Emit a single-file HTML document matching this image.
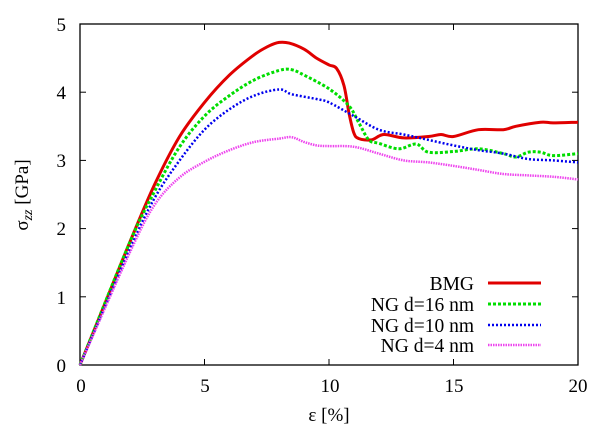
<!DOCTYPE html>
<html><head><style>body{margin:0;background:#fff}svg{display:block}text{font-family:"Liberation Serif",serif;fill:#000}</style></head>
<body>
<svg id="s" width="609" height="427" xmlns="http://www.w3.org/2000/svg">
<rect x="80" y="24" width="498" height="341" fill="none" stroke="#000" stroke-width="1.3"/>
<g id="ticks"></g>
<g font-size="19">
<text x="81" y="392" text-anchor="middle">0</text>
<text x="205" y="392" text-anchor="middle">5</text>
<text x="330" y="392" text-anchor="middle">10</text>
<text x="454" y="392" text-anchor="middle">15</text>
<text x="578" y="392" text-anchor="middle">20</text>
<text x="66" y="372" text-anchor="end">0</text>
<text x="66" y="304" text-anchor="end">1</text>
<text x="66" y="235" text-anchor="end">2</text>
<text x="66" y="167" text-anchor="end">3</text>
<text x="66" y="99" text-anchor="end">4</text>
<text x="66" y="31" text-anchor="end">5</text>
<text x="329" y="421" text-anchor="middle">ε [%]</text>
<text transform="translate(28,195) rotate(-90)" text-anchor="middle">σ<tspan font-style="italic" font-size="14" dy="4">zz</tspan><tspan dy="-4"> [GPa]</tspan></text>
</g>
<g font-size="19.5" text-anchor="end">
<text x="474" y="290">BMG</text>
<text x="474" y="311">NG d=16 nm</text>
<text x="474" y="332">NG d=10 nm</text>
<text x="474" y="352">NG d=4 nm</text>
</g>
<g id="lines"></g>
</svg>
<script>
var X=function(v){return 80+v*24.9},Y=function(v){return 365-v*68.2};
var t='';
for(var i=0;i<=4;i++){var x=X(i*5);t+='<line x1="'+x+'" y1="365" x2="'+x+'" y2="359" stroke="#000"/><line x1="'+x+'" y1="24" x2="'+x+'" y2="30" stroke="#000"/>';}
for(var j=0;j<=5;j++){var y=Y(j);t+='<line x1="80" y1="'+y+'" x2="86" y2="'+y+'" stroke="#000"/><line x1="578" y1="'+y+'" x2="572" y2="'+y+'" stroke="#000"/>';}
document.getElementById('ticks').innerHTML=t;
var S=[
["#e00000","none",3,[[0,0],[1,0.9],[2,1.8],[3,2.65],[4,3.35],[5,3.85],[6,4.25],[7,4.55],[7.6,4.68],[8,4.73],[8.4,4.72],[9,4.63],[9.5,4.5],[10,4.4],[10.3,4.35],[10.6,4.1],[10.8,3.7],[11,3.4],[11.2,3.32],[11.7,3.3],[12.2,3.38],[13,3.33],[14,3.35],[14.5,3.38],[15,3.35],[16,3.45],[17,3.45],[17.5,3.5],[18.5,3.56],[19,3.55],[20,3.56]],283],
["#00dd00","3,2",3,[[0,0],[2,1.8],[3,2.55],[4,3.2],[5,3.65],[6,3.95],[7,4.18],[8,4.32],[8.5,4.33],[9,4.25],[10,4.05],[10.8,3.8],[11.2,3.55],[11.6,3.3],[12,3.25],[12.8,3.17],[13.5,3.24],[14,3.12],[15,3.13],[16,3.17],[17,3.1],[17.5,3.05],[18,3.12],[18.5,3.12],[19,3.07],[20,3.1]],304],
["#0000ee","2,2",2.5,[[0,0],[2,1.7],[3,2.45],[4,3.0],[5,3.45],[6,3.75],[7,3.95],[8,4.04],[8.5,3.97],[9.5,3.9],[10,3.85],[11,3.65],[12,3.45],[13,3.38],[14,3.3],[15,3.22],[16,3.15],[17,3.1],[18,3.02],[19,3.0],[20,2.97]],325],
["#ee44ee","1.5,1",2.5,[[0,0],[2,1.65],[3,2.35],[4,2.75],[5,2.98],[6,3.15],[7,3.27],[8,3.32],[8.5,3.34],[9,3.27],[9.5,3.22],[10,3.21],[11,3.2],[12,3.1],[13,3.0],[14,2.97],[15,2.92],[16,2.86],[17,2.8],[18,2.78],[19,2.76],[20,2.72]],345]];
function smooth(P){var d='M'+P[0][0].toFixed(1)+','+P[0][1].toFixed(1);
for(var i=0;i<P.length-1;i++){var p0=P[i-1]||P[i],p1=P[i],p2=P[i+1],p3=P[i+2]||P[i+1];
var c1=[p1[0]+(p2[0]-p0[0])/6,p1[1]+(p2[1]-p0[1])/6],c2=[p2[0]-(p3[0]-p1[0])/6,p2[1]-(p3[1]-p1[1])/6];
d+=' C'+c1[0].toFixed(1)+','+c1[1].toFixed(1)+' '+c2[0].toFixed(1)+','+c2[1].toFixed(1)+' '+p2[0].toFixed(1)+','+p2[1].toFixed(1);}
return d;}
var h='';
S.forEach(function(s){var P=s[3].map(function(q){return [X(q[0]),Y(q[1])]});
h+='<path d="'+smooth(P)+'" fill="none" stroke="'+s[0]+'" stroke-width="'+s[2]+'" stroke-dasharray="'+s[1]+'" stroke-linejoin="round"/>';
h+='<line x1="488" x2="541" y1="'+s[4]+'" y2="'+s[4]+'" stroke="'+s[0]+'" stroke-width="'+s[2]+'" stroke-dasharray="'+s[1]+'"/>';});
document.getElementById('lines').innerHTML=h;
</script>
</body></html>
